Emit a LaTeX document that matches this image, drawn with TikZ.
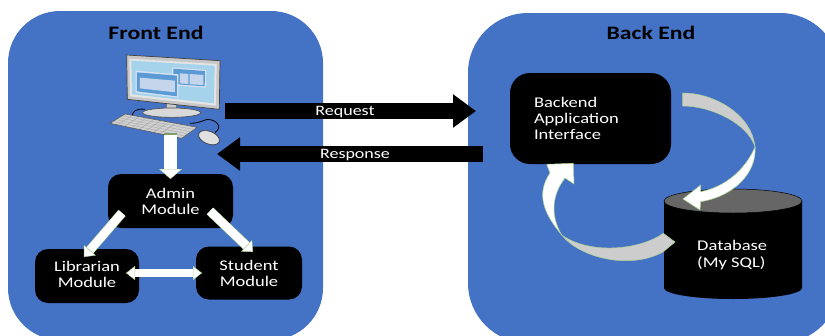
\documentclass[tikz,border=0pt]{standalone}
\usepackage{fontspec}
\setmainfont{Carlito}[FakeStretch=1.25]
\usetikzlibrary{arrows.meta,calc}
\definecolor{panelblue}{HTML}{4472C4}
\definecolor{edgegreen}{HTML}{A9D18E}
\definecolor{ribbon}{HTML}{CDCDCD}
\definecolor{dbtop}{HTML}{666666}
\definecolor{screenblue}{HTML}{A6D3EC}
\definecolor{winblue}{HTML}{5B9BD5}
\definecolor{winpale}{HTML}{C4D5EC}
\tikzset{
  panel/.style={fill=panelblue,rounded corners=52pt},
  paneltitle/.style={font=\fontsize{19}{20}\selectfont\bfseries,text=black},
  blackbox/.style={fill=black,text=white,rounded corners=13pt,align=center,inner sep=0pt,
     font=\fontsize{14.8}{16}\selectfont},
  bigarrow/.style={line width=16pt,-{Triangle[length=23pt,width=32pt]},black},
  arrowlabel/.style={text=white,font=\fontsize{14.4}{16}\selectfont,inner sep=0pt},
  whitearrow/.style={draw=edgegreen,line width=.5pt,double=white,double distance=#1},
  ribbonedge/.style={draw=edgegreen,line width=.5pt},
}
\begin{document}
\begin{tikzpicture}[x=1pt,y=-1pt]
\clip (0,0) rectangle (825,335);
\fill[white] (0,0) rectangle (825,335);
% panels
\fill[panel] (8,11) rectangle (323,340);
\fill[panel,rounded corners=60pt] (468,13) rectangle (840,343);
\node[paneltitle] (fronttitle) at (156,33) {Front End};
\node[paneltitle] (backtitle) at (651,33) {Back End};
% computer
\begin{scope}[shift={(90,40)},x=.3333pt,y=-.3333pt]
  % cables
  \draw[black,line width=.8pt] (165,208) .. controls (140,205) and (130,212) .. (125,228);
  \draw[black,line width=.8pt] (300,250) .. controls (340,250) and (345,232) .. (365,240) .. controls (392,250) and (392,265) .. (375,278);
  % monitor
  \fill[black!55] (228,190) rectangle (262,218);
  \fill[black!20] (231,190) rectangle (259,215);
  \filldraw[fill=black!15,draw=black!70,line width=.6pt] (245,218) ellipse (87 and 14);
  \filldraw[fill=black!22,draw=black!75,line width=.7pt] (110,45) -- (390,62) -- (388,208) -- (112,178) -- cycle;
  \fill[white!90!black] (118,56) -- (380,72) -- (378,197) -- (120,169) -- cycle;
  \fill[screenblue] (124,62) -- (374,77) -- (372,190) -- (126,163) -- cycle;
  % back window
  \fill[winpale!70!white] (246,82) -- (349,90) -- (348,143) -- (246,136) -- cycle;
  \fill[winblue] (250,86) -- (345,93) -- (344,139) -- (250,132) -- cycle;
  \fill[winpale] (270,100) -- (295,102) -- (295,132) -- (270,130) -- cycle;
  \fill[winpale] (299,102) -- (340,105) -- (340,135) -- (299,133) -- cycle;
  % front window
  \fill[winpale!70!white] (137,92) -- (265,103) -- (265,173) -- (137,158) -- cycle;
  \fill[winblue] (141,97) -- (261,107) -- (261,169) -- (141,154) -- cycle;
  \fill[winpale] (150,113) -- (255,122) -- (255,157) -- (150,145) -- cycle;
  % keyboard
  \filldraw[fill=black!18,draw=black!65,line width=.6pt] (60,250) -- (105,222) -- (322,262) -- (275,295) -- cycle;
  \foreach \t in {.2,.4,.6,.8}{
    \draw[black!40,line width=.25pt] ($(60,250)!\t!(105,222)$) -- ($(275,295)!\t!(322,262)$);
  }
  \foreach \t in {.1,.2,.3,.4,.5,.6,.7}{
    \draw[black!40,line width=.25pt] ($(60,250)!\t!(275,295)$) -- ($(105,222)!\t!(322,262)$);
  }
  % mouse
  \filldraw[fill=black!12,draw=black!75,line width=.7pt,rotate around={-22:(357,293)}] (357,293) ellipse (33 and 19);
\end{scope}
\coordinate (pcfoot) at (170.5,133);
% boxes
\node[blackbox,minimum width=125pt,minimum height=54pt] (admin) at (170.5,201) {Admin\\[0pt]Module};
\node[blackbox,minimum width=104pt,minimum height=54pt] (librarian) at (87,276) {\raisebox{2.5pt}{Librarian}\\[0pt]\raisebox{2.5pt}{Module}};
\node[blackbox,minimum width=106pt,minimum height=53pt] (student) at (249,273) {Student\\[0pt]Module};
\node[blackbox,minimum width=161pt,minimum height=91pt,rounded corners=20pt,align=left,text width=113pt] (backend) at (590.5,118.5) {Backend\\[0pt]Application\\[0pt]Interface};
% database
\fill[black] (664,201) -- (664,288) arc[start angle=180,end angle=360,x radius=69pt,y radius=11pt] -- (802,201) -- cycle;
\filldraw[fill=dbtop,draw=black,line width=.5pt] (733,201) ellipse (69 and 12);
\node[text=white,align=left,inner sep=0pt,font=\fontsize{14.8}{16.5}\selectfont,anchor=west] (database) at (697,255) {Database\\[0pt](My SQL)};
% request and response
\coordinate (reqstart) at (225,111);
\coordinate (reqend) at (476,111);
\coordinate (respstart) at (483,154);
\coordinate (respend) at (217,154);
\draw[bigarrow] (reqstart) -- (reqend);
\draw[bigarrow] (respstart) -- (respend);
\node[arrowlabel] (reqlabel) at (345,112.5) {Request};
\node[arrowlabel] (resplabel) at (355,155.5) {Response};
% white arrows
\coordinate (admintop) at (170.5,179);
\coordinate (adminleft) at (122,213);
\coordinate (libtop) at (84,257);
\coordinate (adminright) at (210,211);
\coordinate (studtop) at (253,252);
\coordinate (libright) at (126,273);
\coordinate (studleft) at (202,273);
\draw[whitearrow=12.5pt,-{Triangle[length=10pt,width=23pt,fill=white,line width=.4pt]}] (pcfoot) -- (admintop);
\draw[edgegreen!75!black,line width=2pt] (164.2,134) -- (176.8,134);
\draw[whitearrow=8.5pt,-{Triangle[length=9pt,width=16pt,fill=white,line width=.4pt]}] (adminleft) -- (libtop);
\draw[whitearrow=8.5pt,-{Triangle[length=9pt,width=16pt,fill=white,line width=.4pt]}] (adminright) -- (studtop);
\draw[whitearrow=7.5pt,{Triangle[length=9pt,width=14pt,fill=white,line width=.4pt]}-{Triangle[length=9pt,width=14pt,fill=white,line width=.4pt]}] (libright) -- (studleft);
% curved arrow: backend to database
\filldraw[fill=ribbon,ribbonedge] (682.7,93) .. controls (715,93) and (752,115) .. (755,147)
   .. controls (748,124) and (712,106) .. (682.7,106) -- cycle;
\filldraw[fill=white,ribbonedge] (755,147) .. controls (757,172) and (735,196) .. (700.7,201.7)
   -- (700,210) -- (683,199) -- (700.7,185) -- (700.7,191.7)
   .. controls (725,187) and (745,170) .. (755,147) -- cycle;
% curved arrow: database to backend
\filldraw[fill=ribbon,ribbonedge] (561.7,235) .. controls (580,258) and (630,270) .. (663,252)
   -- (675,242) -- (663.3,233.3) .. controls (640,250) and (590,255) .. (561.7,235) -- cycle;
\filldraw[fill=white,ribbonedge] (561.7,235) .. controls (545,215) and (535,195) .. (550,173)
   -- (546.7,164.3) -- (573.3,163.3) -- (574,184) -- (565,178)
   .. controls (552,195) and (550,215) .. (561.7,235) -- cycle;
\end{tikzpicture}
\end{document}
